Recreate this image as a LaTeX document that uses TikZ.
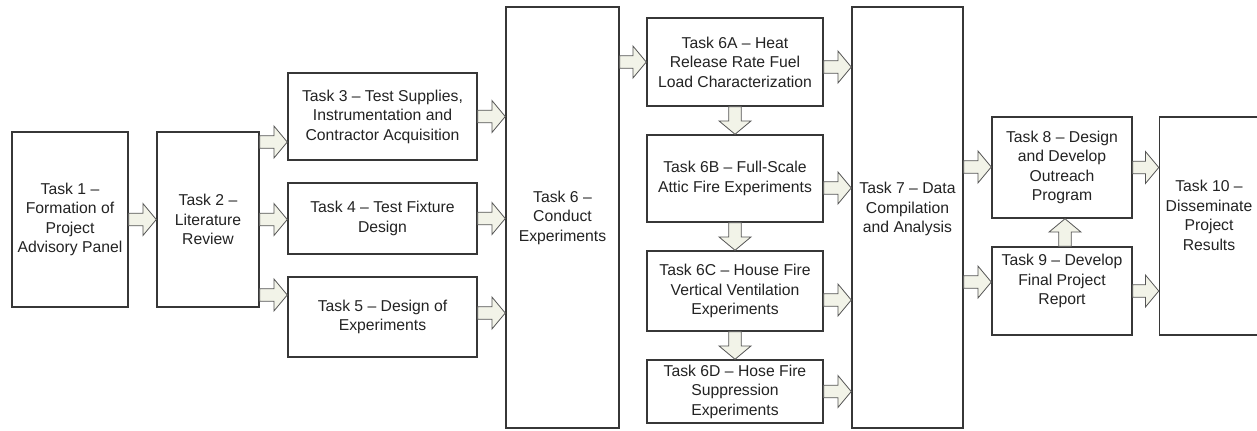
\documentclass[tikz,border=0pt]{standalone}
\usepackage{fontspec}
\setmainfont{Liberation Sans}
\usetikzlibrary{calc}
\definecolor{boxline}{RGB}{55,55,55}
\definecolor{arrowline}{RGB}{85,85,85}
\definecolor{arrowfill}{RGB}{242,243,232}
\definecolor{tasktext}{RGB}{35,35,35}
\begin{document}
\begin{tikzpicture}[x=0.75pt,y=-0.75pt] % 1 unit = 1 pixel of the sketch
\tikzstyle{taskbox} = [draw=boxline, line width=1.1pt, fill=white, align=center, inner sep=2pt, text=tasktext, font=\fontsize{11.8}{14.6}\selectfont] % task box style
\tikzstyle{harrow} = [draw=arrowline, line width=0.6pt, fill=arrowfill, to path={let \p1=(\tikztostart), \p2=(\tikztotarget) in
  (\x1,\y1+4.7pt) -- (\x2-10pt,\y1+4.7pt) -- (\x2-10pt,\y1+12pt) -- (\x2,\y1) -- (\x2-10pt,\y1-12pt) -- (\x2-10pt,\y1-4.7pt) -- (\x1,\y1-4.7pt) -- cycle}] % block arrow to the right
\tikzstyle{darrow} = [draw=arrowline, line width=0.6pt, fill=arrowfill, to path={let \p1=(\tikztostart), \p2=(\tikztotarget) in
  (\x1-4.7pt,\y1) -- (\x1-4.7pt,\y2+10pt) -- (\x1-12pt,\y2+10pt) -- (\x1,\y2) -- (\x1+12pt,\y2+10pt) -- (\x1+4.7pt,\y2+10pt) -- (\x1+4.7pt,\y1) -- cycle}] % block arrow down
\tikzstyle{uarrow} = [draw=arrowline, line width=0.6pt, fill=arrowfill, to path={let \p1=(\tikztostart), \p2=(\tikztotarget) in
  (\x1-4.7pt,\y1) -- (\x1-4.7pt,\y2-10pt) -- (\x1-12pt,\y2-10pt) -- (\x1,\y2) -- (\x1+12pt,\y2-10pt) -- (\x1+4.7pt,\y2-10pt) -- (\x1+4.7pt,\y1) -- cycle}] % block arrow up
\useasboundingbox (0,0) rectangle (1257,430);

% first column: panel and literature
\node[taskbox, minimum width=87pt, minimum height=131.25pt] (t1) at (70,219.5) {Task 1 --\\Formation of\\Project\\Advisory Panel};
\node[taskbox, minimum width=76.5pt, minimum height=131.25pt] (t2) at (208,219.5) {Task 2 --\\Literature\\Review};
%
\node[taskbox, minimum width=141.75pt, minimum height=65.25pt] (t3) at (382.5,116.5) {Task 3 -- Test Supplies,\\Instrumentation and\\Contractor Acquisition};
\node[taskbox, minimum width=141.75pt, minimum height=53.25pt] (t4) at (382.5,218.5) {Task 4 -- Test Fixture\\Design};
\node[taskbox, minimum width=141.75pt, minimum height=60pt] (t5) at (382.5,317) {Task 5 -- Design of\\Experiments};
%
\node[taskbox, minimum width=84.75pt, minimum height=315.75pt] (t6) at (562.5,217.5) {Task 6 --\\Conduct\\Experiments};
\node[taskbox, minimum width=132pt, minimum height=66pt] (t6a) at (735,62) {Task 6A -- Heat\\Release Rate Fuel\\Load Characterization};
\node[taskbox, minimum width=132pt, minimum height=65.25pt] (t6b) at (735,178.5) {Task 6B -- Full-Scale\\Attic Fire Experiments};
\node[taskbox, minimum width=132pt, minimum height=60pt] (t6c) at (735,291) {Task 6C -- House Fire\\Vertical Ventilation\\Experiments};
\node[taskbox, minimum width=132pt, minimum height=47.25pt] (t6d) at (735,391.5) {Task 6D -- Hose Fire\\Suppression\\Experiments};
%
\node[taskbox, minimum width=83.25pt, minimum height=315.75pt, text depth=15pt] (t7) at (907.5,217.5) {Task 7 -- Data\\Compilation\\and Analysis};
\node[taskbox, minimum width=105pt, minimum height=75.75pt] (t8) at (1062,167.5) {Task 8 -- Design\\and Develop\\Outreach\\Program};
\node[taskbox, minimum width=105pt, minimum height=66pt, text depth=17.5pt] (t9) at (1062,291) {Task 9 -- Develop\\Final Project\\Report};
\node[taskbox, minimum width=74.25pt, minimum height=163.5pt, text depth=16pt] (t10) at (1209,226) {Task 10 --\\Disseminate\\Project\\Results};

% block arrows
\draw[harrow] (t1.east) to (t2.west);
\draw[harrow] ([yshift=58.1pt]t2.east) to (t3.west);
\draw[harrow] (t2.east) to (t4.west);
\draw[harrow] ([yshift=-56.6pt]t2.east) to (t5.west);
\draw[harrow] (t3.east) to (t6.west);
\draw[harrow] (t4.east) to (t6.west);
\draw[harrow] ([yshift=3pt]t5.east) to (t6.west);
\draw[harrow] ([yshift=116.6pt]t6.east) to (t6a.west);
\draw[harrow] ([yshift=-3.75pt]t6a.east) to (t7.west);
\draw[harrow] ([yshift=-7.1pt]t6b.east) to (t7.west);
\draw[harrow] ([yshift=-6.75pt]t6c.east) to (t7.west);
\draw[harrow] (t6d.east) to (t7.west);
\draw[harrow] ([yshift=37.9pt]t7.east) to (t8.west);
\draw[harrow] ([yshift=-48.4pt]t7.east) to (t9.west);
\draw[harrow] (t8.east) to (t10.west);
\draw[harrow] (t9.east) to (t10.west);
% down the 6A..6D column, and 9 up to 8
\draw[darrow] (t6a.south) to (t6b.north);
\draw[darrow] (t6b.south) to (t6c.north);
\draw[darrow] (t6c.south) to (t6d.north);
\draw[uarrow] ([xshift=2.25pt]t9.north) to (t8.south);
\end{tikzpicture}
\end{document}
